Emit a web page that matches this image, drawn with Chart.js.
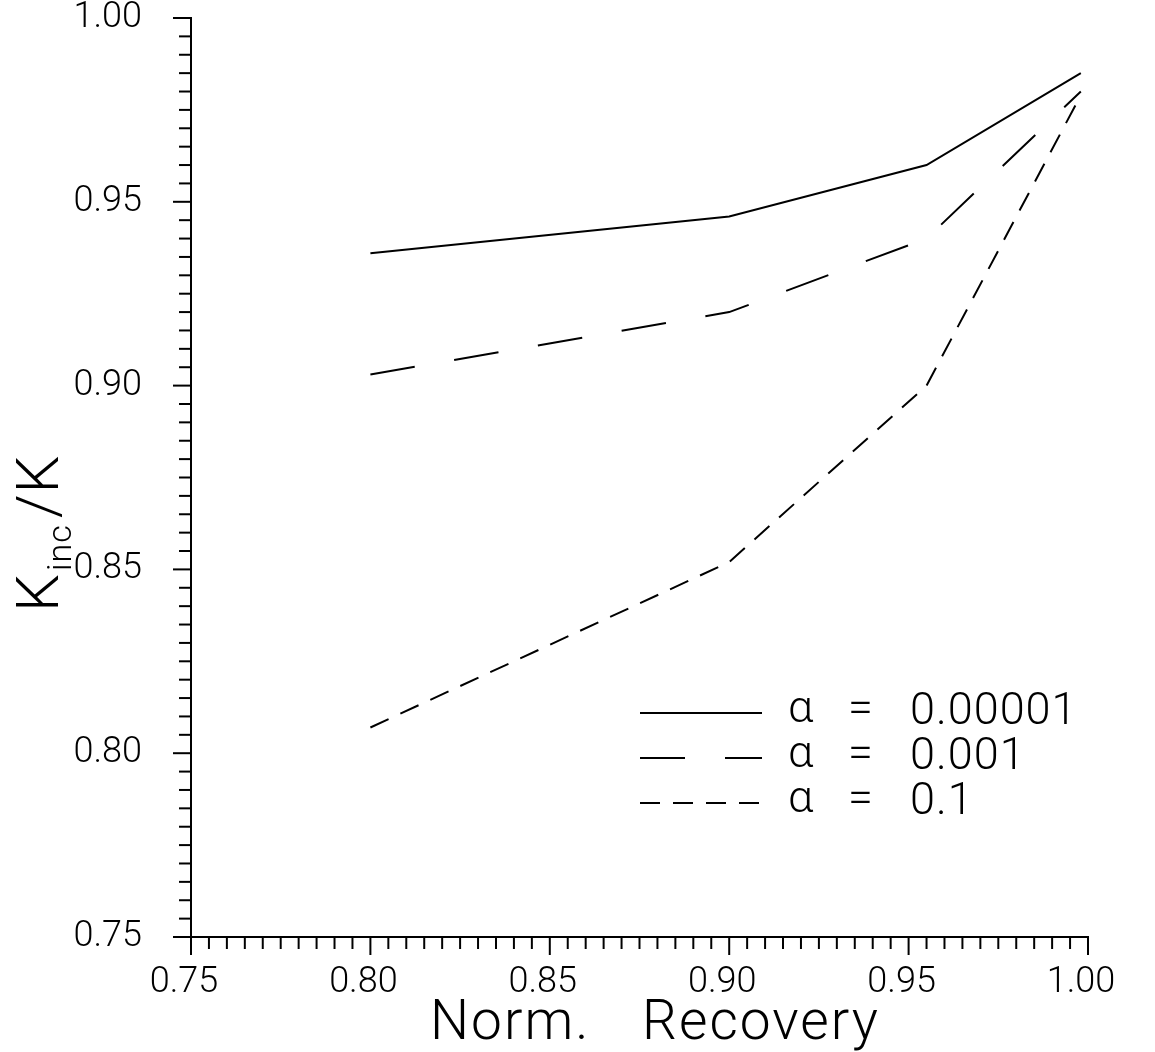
<!DOCTYPE html>
<html lang="en">

<head>
    <meta charset="UTF-8">
    <title>Kinc/K vs Norm. Recovery</title>
    <script src="https://cdn.jsdelivr.net/npm/chart.js"></script>
    <style>
        body { margin: 0; background: #fff; }
        canvas { display: block; }
    </style>
</head>

<body>
    <canvas id="chart" width="1155" height="1052"></canvas>
    <script>
        // data
        const recovery = [0.80, 0.90, 0.955, 0.998];
        const ratioAlpha1 = [0.936, 0.946, 0.960, 0.985];   // alpha = 0.00001
        const ratioAlpha2 = [0.903, 0.920, 0.940, 0.980];   // alpha = 0.001
        const ratioAlpha3 = [0.807, 0.852, 0.900, 0.979];   // alpha = 0.1
        const alphaLabels = ["0.00001", "0.001", "0.1"];
        const xTicks = [0.75, 0.80, 0.85, 0.90, 0.95, 1.00];
        const yTicks = [0.75, 0.80, 0.85, 0.90, 0.95, 1.00];

        const FONT = "Roboto, 'Liberation Sans', sans-serif";

        function pts(ys) {
            return recovery.map((x, i) => ({ x: x, y: ys[i] }));
        }

        // minor + major tick marks, drawn outward from the axes
        const tickMarks = {
            id: "tickMarks",
            afterDraw(chart) {
                const ctx = chart.ctx;
                const xs = chart.scales.x, ys = chart.scales.y;
                const area = chart.chartArea;
                ctx.save();
                ctx.strokeStyle = "#000";
                ctx.lineWidth = 2;
                for (let i = 0; i <= 50; i++) {
                    const v = 0.75 + i * 0.005;
                    const len = i % 10 === 0 ? 18 : 12;
                    const px = xs.getPixelForValue(v);
                    ctx.beginPath();
                    ctx.moveTo(px, area.bottom);
                    ctx.lineTo(px, area.bottom + len);
                    ctx.stroke();
                    const py = ys.getPixelForValue(v);
                    ctx.beginPath();
                    ctx.moveTo(area.left, py);
                    ctx.lineTo(area.left - len, py);
                    ctx.stroke();
                }
                ctx.restore();
            }
        };

        // axis titles and the legend box inside the plot
        const labelsPlugin = {
            id: "labelsPlugin",
            afterDraw(chart) {
                const ctx = chart.ctx;
                ctx.save();
                ctx.fillStyle = "#000";
                ctx.textBaseline = "alphabetic";

                // x title
                ctx.font = "300 55px " + FONT;
                ctx.letterSpacing = "2px";
                ctx.textAlign = "left";
                ctx.fillText("Norm.", 430, 1039);
                ctx.fillText("Recovery", 642, 1039);

                // y title, rotated: K_inc/K
                ctx.translate(58, 612);
                ctx.rotate(-Math.PI / 2);
                ctx.letterSpacing = "1px";
                ctx.font = "300 60px " + FONT;
                ctx.fillText("K", 0, 0);
                let w = ctx.measureText("K").width + 2;
                ctx.font = "300 34px " + FONT;
                ctx.fillText("inc", w, 13);
                w += ctx.measureText("inc").width + 6;
                ctx.font = "300 60px " + FONT;
                ctx.fillText("/K", w, 0);
                ctx.restore();

                // legend
                ctx.save();
                const rows = [713, 758, 803];
                chart.data.datasets.forEach((ds, i) => {
                    const y = rows[i];
                    ctx.strokeStyle = "#000";
                    ctx.lineWidth = 2;
                    ctx.setLineDash(ds.borderDash || []);
                    ctx.beginPath();
                    ctx.moveTo(640, y);
                    ctx.lineTo(762, y);
                    ctx.stroke();
                    ctx.setLineDash([]);
                    ctx.fillStyle = "#000";
                    ctx.textBaseline = "middle";
                    ctx.textAlign = "left";
                    ctx.font = "300 45px " + FONT;
                    ctx.fillText("\u03b1", 788, y - 2);
                    ctx.fillText("=", 848, y - 2);
                    ctx.letterSpacing = "1px";
                    ctx.fillText(alphaLabels[i], 910, y);
                    ctx.letterSpacing = "0px";
                });
                ctx.restore();
            }
        };

        new Chart(document.getElementById("chart"), {
            type: "line",
            data: {
                datasets: [
                    { data: pts(ratioAlpha1), borderColor: "#000", borderWidth: 2, borderDash: [] },
                    { data: pts(ratioAlpha2), borderColor: "#000", borderWidth: 2, borderDash: [45, 40] },
                    { data: pts(ratioAlpha3), borderColor: "#000", borderWidth: 2, borderDash: [20, 13] }
                ]
            },
            options: {
                responsive: false,
                animation: false,
                events: [],
                layout: { padding: { top: 18, right: 67, left: 0, bottom: 0 } },
                elements: { point: { radius: 0 }, line: { tension: 0 } },
                plugins: { legend: { display: false }, tooltip: { enabled: false } },
                scales: {
                    x: {
                        type: "linear",
                        min: 0.75,
                        max: 1.00,
                        afterBuildTicks: s => { s.ticks = xTicks.map(v => ({ value: v })); },
                        afterFit: s => { s.height = 115; s.paddingLeft = 0; s.paddingRight = 0; },
                        grid: { display: false },
                        border: { display: true, color: "#000", width: 2 },
                        ticks: {
                            color: "#000",
                            font: { family: FONT, size: 36, weight: 300 },
                            padding: 16,
                            labelOffset: -7,
                            maxRotation: 0,
                            callback: v => v.toFixed(2)
                        }
                    },
                    y: {
                        type: "linear",
                        min: 0.75,
                        max: 1.00,
                        afterBuildTicks: s => { s.ticks = yTicks.map(v => ({ value: v })); },
                        afterFit: s => { s.width = 191; s.paddingTop = 0; s.paddingBottom = 0; },
                        grid: { display: false },
                        border: { display: true, color: "#000", width: 2 },
                        ticks: {
                            color: "#000",
                            font: { family: FONT, size: 36, weight: 300 },
                            padding: 41,
                            callback: v => v.toFixed(2)
                        }
                    }
                }
            },
            plugins: [tickMarks, labelsPlugin]
        });
    </script>
</body>

</html>
